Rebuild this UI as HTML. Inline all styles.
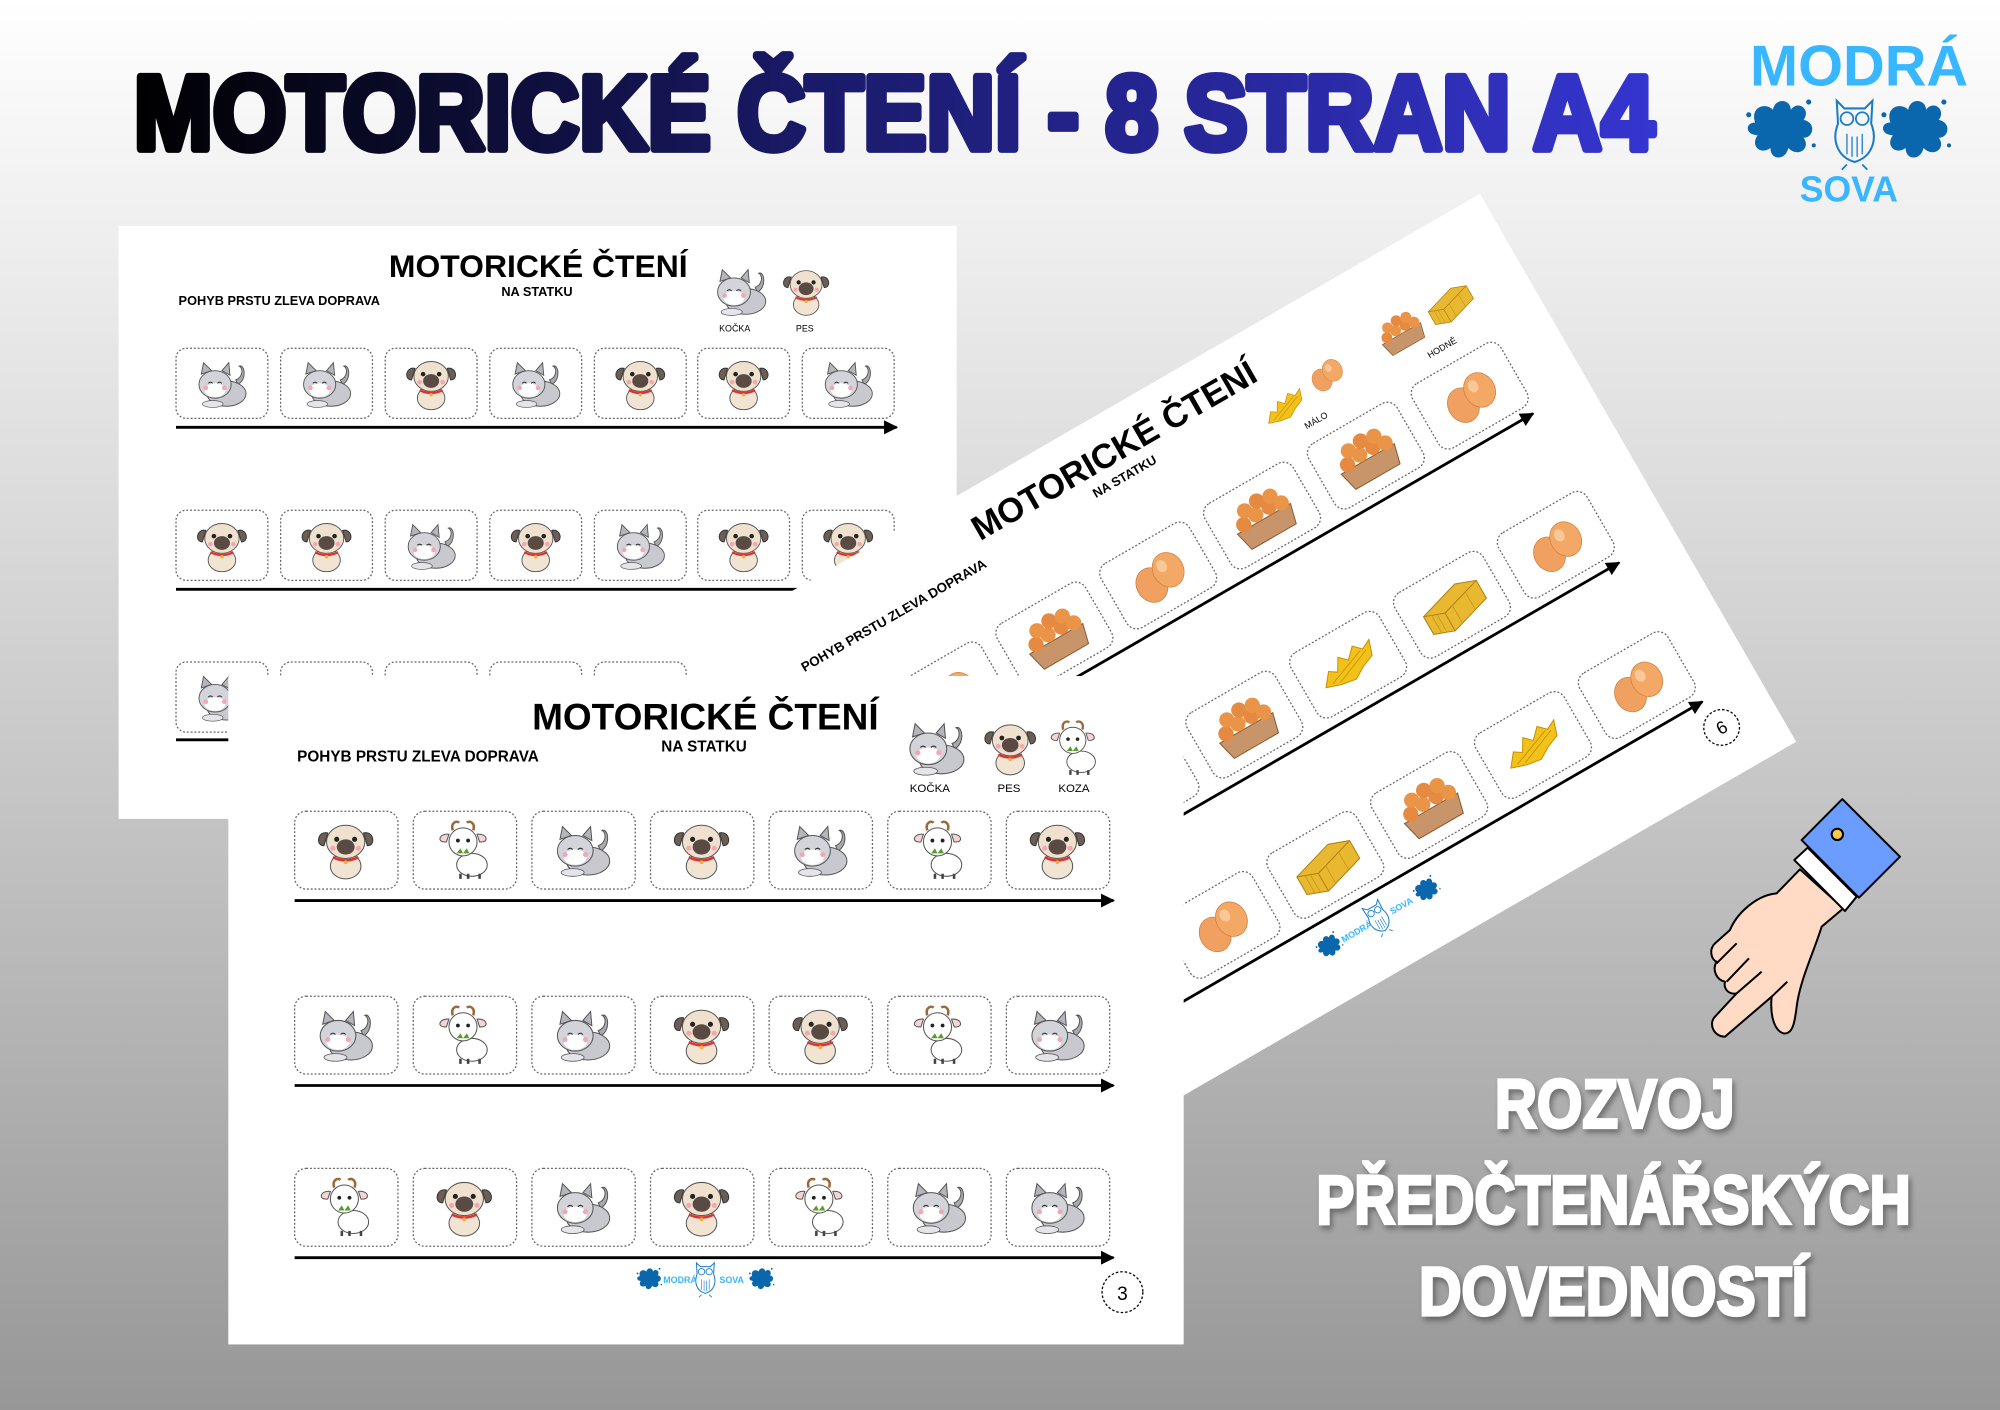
<!DOCTYPE html>
<html><head><meta charset="utf-8"><style>
html,body{margin:0;padding:0;width:2000px;height:1410px;overflow:hidden;background:#fff}
svg{display:block}
text{font-family:"Liberation Sans",sans-serif}
.c{fill:#fff;stroke:#666;stroke-width:1;stroke-dasharray:1.5 1.5}
.ln{stroke:#000;stroke-width:2.2}
</style></head><body>
<svg width="2000" height="1410" viewBox="0 0 1568 1105.4" preserveAspectRatio="none" xmlns="http://www.w3.org/2000/svg" xmlns:xlink="http://www.w3.org/1999/xlink">
<defs>
<linearGradient id="bg" x1="0" y1="0" x2="0" y2="1">
<stop offset="0" stop-color="#ffffff"/><stop offset="0.35" stop-color="#dcdcdc"/><stop offset="1" stop-color="#979797"/></linearGradient>
<linearGradient id="tg" x1="0" y1="0" x2="1" y2="0">
<stop offset="0" stop-color="#000"/><stop offset="0.45" stop-color="#1a1a6a"/><stop offset="1" stop-color="#3535d0"/></linearGradient>
<marker id="ar" viewBox="0 0 10 10" refX="9" refY="5" markerWidth="5" markerHeight="5" orient="auto"><path d="M0,0L10,5L0,10z" fill="#000"/></marker>
<symbol id="cat" viewBox="0 0 60 50">
<path d="M44,26 C52,22 50,8 45,10 C49,12 48,20 42,22z" fill="#a9a9b0" stroke="#555" stroke-width=".8"/>
<ellipse cx="34" cy="34" rx="17" ry="11" fill="#c8c8cf" stroke="#555" stroke-width=".8"/>
<path d="M12,17 L14,7 L21,14z M30,14 L36,7 L37,18z" fill="#b5b5bc" stroke="#555" stroke-width=".8"/>
<ellipse cx="24" cy="26" rx="14" ry="12" fill="#d3d3da" stroke="#555" stroke-width=".8"/>
<ellipse cx="24" cy="31" rx="9" ry="6" fill="#fff"/>
<circle cx="16" cy="29" r="2" fill="#f4a7b0"/><circle cx="32" cy="29" r="2" fill="#f4a7b0"/>
<path d="M18,25q2,-2 4,0M26,25q2,-2 4,0" stroke="#333" fill="none" stroke-width=".9"/>
<ellipse cx="22" cy="43" rx="9" ry="3" fill="#e4e4e9" stroke="#555" stroke-width=".6"/>
</symbol>
<symbol id="pug" viewBox="0 0 60 50">
<ellipse cx="30" cy="38" rx="12" ry="10" fill="#f1e4d2" stroke="#555" stroke-width=".8"/>
<path d="M16,12 C8,10 6,22 13,22z M44,12 C52,10 54,22 47,22z" fill="#6b5e55" stroke="#333" stroke-width=".8"/>
<ellipse cx="30" cy="19" rx="15" ry="13" fill="#efe1cd" stroke="#555" stroke-width=".8"/>
<ellipse cx="30" cy="23" rx="7" ry="6" fill="#5a4a44"/>
<circle cx="23" cy="17" r="2" fill="#222"/><circle cx="37" cy="17" r="2" fill="#222"/>
<circle cx="20" cy="24" r="2" fill="#f4a7b0"/><circle cx="40" cy="24" r="2" fill="#f4a7b0"/>
<path d="M20,31 Q30,36 40,31" stroke="#d33" stroke-width="2" fill="none"/>
<circle cx="30" cy="35" r="1.5" fill="#f0b030"/>
</symbol>
<symbol id="goat" viewBox="0 0 60 50">
<path d="M21,10 C19,4 24,2 26,4 M37,10 C39,4 34,2 32,4" stroke="#9a6a3a" stroke-width="2" fill="none"/>
<ellipse cx="36" cy="37" rx="12" ry="9" fill="#fff" stroke="#555" stroke-width=".8"/>
<path d="M18,13 C10,12 8,20 16,19z M40,13 C48,12 50,20 42,19z" fill="#f6d4d4" stroke="#555" stroke-width=".8"/>
<ellipse cx="29" cy="19" rx="11" ry="11" fill="#fff" stroke="#555" stroke-width=".8"/>
<circle cx="25" cy="18" r="1.5" fill="#222"/><circle cx="33" cy="18" r="1.5" fill="#222"/>
<path d="M24,28 l3,-4 l2,4 l3,-4 l2,4z" fill="#5a9a30"/>
<path d="M27,44v4M33,44v4M42,44v4" stroke="#444" stroke-width="2"/>
</symbol>
<symbol id="eggs" viewBox="0 0 60 50">
<ellipse cx="22" cy="29" rx="12" ry="14" fill="#f0a060" stroke="#d08040" stroke-width=".6"/>
<ellipse cx="39" cy="25" rx="12" ry="14" fill="#f3a866" stroke="#d08040" stroke-width=".6"/>
<ellipse cx="36" cy="20" rx="4" ry="5" fill="#f8c898"/>
</symbol>
<symbol id="tray" viewBox="0 0 60 50">
<path d="M6,28 L54,28 L50,44 L10,44z" fill="#c8956a" stroke="#8a5a30" stroke-width=".8"/>
<circle cx="14" cy="24" r="6" fill="#e58a40"/><circle cx="26" cy="22" r="6" fill="#ea9448"/><circle cx="38" cy="22" r="6" fill="#e58a40"/><circle cx="48" cy="24" r="6" fill="#ea9448"/>
<circle cx="20" cy="15" r="6" fill="#ea9448"/><circle cx="32" cy="13" r="6" fill="#e58a40"/><circle cx="43" cy="15" r="6" fill="#ea9448"/>
</symbol>
<symbol id="hay" viewBox="0 0 60 50">
<path d="M6,32 L14,22 L20,26 L26,16 L32,22 L40,14 L46,20 L54,16 L50,28 L40,32 L30,38 L18,36z" fill="#f2c21a" stroke="#c89000" stroke-width=".8"/>
<path d="M12,32 L44,20M18,34 L48,22" stroke="#c89000" stroke-width=".7"/>
</symbol>
<symbol id="bale" viewBox="0 0 60 50">
<path d="M6,22 L40,12 L56,18 L56,34 L22,44 L6,38z" fill="#e8b830" stroke="#b08010" stroke-width=".8"/>
<path d="M6,22 L22,28 L56,18M22,28 L22,44" stroke="#b08010" stroke-width=".8" fill="none"/>
<path d="M12,24v16M16,25v17M30,25v16M44,21v16" stroke="#c89a18" stroke-width=".7"/>
</symbol>
<symbol id="splat" viewBox="-30 -30 60 60">
<path d="M-20,-4 C-24,-16 -12,-20 -6,-14 C-4,-24 8,-22 8,-14 C14,-22 24,-14 18,-6 C28,-4 26,8 18,8 C24,16 14,24 6,16 C4,26 -8,26 -8,16 C-16,22 -24,14 -18,6 C-28,6 -28,-4 -20,-4z" fill="#0a66ad"/>
<circle cx="-25" cy="-10" r="2" fill="#0a66ad"/><circle cx="22" cy="-20" r="2" fill="#0a66ad"/><circle cx="26" cy="14" r="1.6" fill="#0a66ad"/>
</symbol>
<symbol id="owl" viewBox="-20 -30 40 60">
<path d="M-14,-26 L-8,-20 L8,-20 L14,-26 L13,-8 C18,4 14,18 0,22 C-14,18 -18,4 -13,-8z" fill="none" stroke="#1a7cc8" stroke-width="1.6"/>
<circle cx="-6" cy="-12" r="5" fill="none" stroke="#1a7cc8" stroke-width="1.4"/><circle cx="6" cy="-12" r="5" fill="none" stroke="#1a7cc8" stroke-width="1.4"/>
<path d="M-6,0v16M-2,2v16M2,2v16M6,0v16" stroke="#1a7cc8" stroke-width="1"/>
<path d="M-6,24 l-4,4M6,24l4,4" stroke="#1a7cc8" stroke-width="1.4"/>
</symbol>
<symbol id="mini" viewBox="0 0 110 30">
<use href="#splat" x="0" y="3" width="22" height="22"/>
<use href="#splat" x="88" y="3" width="22" height="22"/>
<use href="#owl" x="45" y="0" width="20" height="30"/>
<text x="22" y="18" font-size="7" font-weight="bold" fill="#38b6ff">MODRÁ</text>
<text x="66" y="18" font-size="7" font-weight="bold" fill="#38b6ff">SOVA</text>
</symbol>
</defs>

<rect width="1568" height="1105.4" fill="url(#bg)"/>

<text x="105" y="117" font-size="82" font-weight="bold" fill="url(#tg)" stroke="url(#tg)" stroke-width="6" stroke-linejoin="round" textLength="1192" lengthAdjust="spacingAndGlyphs">MOTORICKÉ ČTENÍ - 8 STRAN A4</text>

<text x="1372" y="67" font-size="45" font-weight="bold" fill="#38b6ff" textLength="171" lengthAdjust="spacingAndGlyphs">MODRÁ</text>
<use href="#splat" x="1366" y="70" width="60" height="60"/>
<use href="#splat" x="1472" y="70" width="60" height="60"/>
<use href="#owl" x="1426" y="75" width="56" height="60"/>
<text x="1411" y="158" font-size="28" font-weight="bold" fill="#38b6ff" textLength="77" lengthAdjust="spacingAndGlyphs">SOVA</text>

<g>
<rect x="93" y="177" width="657" height="465" fill="#fff"/>
<text x="422" y="217" font-size="25" font-weight="bold" text-anchor="middle">MOTORICKÉ ČTENÍ</text>
<text x="421" y="232" font-size="10" font-weight="bold" text-anchor="middle">NA STATKU</text>
<text x="140" y="239" font-size="10" font-weight="bold">POHYB PRSTU ZLEVA DOPRAVA</text>
<use href="#cat" x="553" y="205" width="56" height="46"/><use href="#pug" x="607" y="205" width="50" height="46"/>
<text x="576" y="260" font-size="7" text-anchor="middle">KOČKA</text><text x="631" y="260" font-size="7" text-anchor="middle">PES</text>
<g>
<rect class="c" x="138" y="273" width="72" height="55" rx="8"/><use href="#cat" x="147" y="278" width="54" height="45"/>
<rect class="c" x="220" y="273" width="72" height="55" rx="8"/><use href="#cat" x="229" y="278" width="54" height="45"/>
<rect class="c" x="302" y="273" width="72" height="55" rx="8"/><use href="#pug" x="311" y="278" width="54" height="45"/>
<rect class="c" x="384" y="273" width="72" height="55" rx="8"/><use href="#cat" x="393" y="278" width="54" height="45"/>
<rect class="c" x="466" y="273" width="72" height="55" rx="8"/><use href="#pug" x="475" y="278" width="54" height="45"/>
<rect class="c" x="547" y="273" width="72" height="55" rx="8"/><use href="#pug" x="556" y="278" width="54" height="45"/>
<rect class="c" x="629" y="273" width="72" height="55" rx="8"/><use href="#cat" x="638" y="278" width="54" height="45"/>
<line class="ln" x1="138" y1="335" x2="703" y2="335" marker-end="url(#ar)"/>
<rect class="c" x="138" y="400" width="72" height="55" rx="8"/><use href="#pug" x="147" y="405" width="54" height="45"/>
<rect class="c" x="220" y="400" width="72" height="55" rx="8"/><use href="#pug" x="229" y="405" width="54" height="45"/>
<rect class="c" x="302" y="400" width="72" height="55" rx="8"/><use href="#cat" x="311" y="405" width="54" height="45"/>
<rect class="c" x="384" y="400" width="72" height="55" rx="8"/><use href="#pug" x="393" y="405" width="54" height="45"/>
<rect class="c" x="466" y="400" width="72" height="55" rx="8"/><use href="#cat" x="475" y="405" width="54" height="45"/>
<rect class="c" x="547" y="400" width="72" height="55" rx="8"/><use href="#pug" x="556" y="405" width="54" height="45"/>
<rect class="c" x="629" y="400" width="72" height="55" rx="8"/><use href="#pug" x="638" y="405" width="54" height="45"/>
<line class="ln" x1="138" y1="462" x2="703" y2="462" marker-end="url(#ar)"/>
<rect class="c" x="138" y="519" width="72" height="55" rx="8"/><use href="#cat" x="147" y="524" width="54" height="45"/>
<rect class="c" x="220" y="519" width="72" height="55" rx="8"/>
<rect class="c" x="302" y="519" width="72" height="55" rx="8"/>
<rect class="c" x="384" y="519" width="72" height="55" rx="8"/>
<rect class="c" x="466" y="519" width="72" height="55" rx="8"/>
<line class="ln" x1="138" y1="580" x2="703" y2="580"/>
</g>
</g>

<g transform="translate(554,502) rotate(-30)">
<rect x="0" y="0" width="700" height="496" fill="#fff"/>
<text x="351" y="40" font-size="27" font-weight="bold" text-anchor="middle">MOTORICKÉ ČTENÍ</text>
<text x="348" y="56" font-size="10" font-weight="bold" text-anchor="middle">NA STATKU</text>
<text x="54" y="60" font-size="10.5" font-weight="bold">POHYB PRSTU ZLEVA DOPRAVA</text>
<use href="#hay" x="462" y="50" width="44" height="36"/><use href="#eggs" x="506" y="46" width="38" height="32"/>
<text x="500" y="92" font-size="7" text-anchor="middle">MÁLO</text>
<use href="#tray" x="570" y="44" width="44" height="36"/><use href="#bale" x="614" y="44" width="44" height="36"/>
<text x="614" y="92" font-size="7" text-anchor="middle">HODNĚ</text>
<rect class="c" x="10" y="104" width="80" height="58" rx="9"/><use href="#tray" x="20" y="108" width="60" height="50"/>
<rect class="c" x="104" y="104" width="80" height="58" rx="9"/><use href="#eggs" x="114" y="108" width="60" height="50"/>
<rect class="c" x="198" y="104" width="80" height="58" rx="9"/><use href="#tray" x="208" y="108" width="60" height="50"/>
<rect class="c" x="292" y="104" width="80" height="58" rx="9"/><use href="#eggs" x="302" y="108" width="60" height="50"/>
<rect class="c" x="386" y="104" width="80" height="58" rx="9"/><use href="#tray" x="396" y="108" width="60" height="50"/>
<rect class="c" x="480" y="104" width="80" height="58" rx="9"/><use href="#tray" x="490" y="108" width="60" height="50"/>
<rect class="c" x="574" y="104" width="80" height="58" rx="9"/><use href="#eggs" x="584" y="108" width="60" height="50"/>
<line class="ln" x1="10" y1="170" x2="650" y2="170" marker-end="url(#ar)"/>
<rect class="c" x="10" y="239" width="80" height="58" rx="9"/><use href="#eggs" x="20" y="243" width="60" height="50"/>
<rect class="c" x="104" y="239" width="80" height="58" rx="9"/><use href="#hay" x="114" y="243" width="60" height="50"/>
<rect class="c" x="198" y="239" width="80" height="58" rx="9"/><use href="#bale" x="208" y="243" width="60" height="50"/>
<rect class="c" x="292" y="239" width="80" height="58" rx="9"/><use href="#tray" x="302" y="243" width="60" height="50"/>
<rect class="c" x="386" y="239" width="80" height="58" rx="9"/><use href="#hay" x="396" y="243" width="60" height="50"/>
<rect class="c" x="480" y="239" width="80" height="58" rx="9"/><use href="#bale" x="490" y="243" width="60" height="50"/>
<rect class="c" x="574" y="239" width="80" height="58" rx="9"/><use href="#eggs" x="584" y="243" width="60" height="50"/>
<line class="ln" x1="10" y1="305" x2="650" y2="305" marker-end="url(#ar)"/>
<rect class="c" x="10" y="366" width="80" height="58" rx="9"/><use href="#tray" x="20" y="370" width="60" height="50"/>
<rect class="c" x="104" y="366" width="80" height="58" rx="9"/><use href="#hay" x="114" y="370" width="60" height="50"/>
<rect class="c" x="198" y="366" width="80" height="58" rx="9"/><use href="#eggs" x="208" y="370" width="60" height="50"/>
<rect class="c" x="292" y="366" width="80" height="58" rx="9"/><use href="#bale" x="302" y="370" width="60" height="50"/>
<rect class="c" x="386" y="366" width="80" height="58" rx="9"/><use href="#tray" x="396" y="370" width="60" height="50"/>
<rect class="c" x="480" y="366" width="80" height="58" rx="9"/><use href="#hay" x="490" y="370" width="60" height="50"/>
<rect class="c" x="574" y="366" width="80" height="58" rx="9"/><use href="#eggs" x="584" y="370" width="60" height="50"/>
<line class="ln" x1="10" y1="432" x2="652" y2="432" marker-end="url(#ar)"/>
<use href="#mini" x="292" y="437" width="110" height="30"/>
<circle cx="655" cy="457" r="14" fill="#fff" stroke="#000" stroke-width="1" stroke-dasharray="2 1.5"/>
<text x="655" y="462" font-size="14" text-anchor="middle">6</text>
</g>

<g>
<rect x="179" y="530" width="749" height="524" fill="#fff"/>
<text x="553" y="572" font-size="29" font-weight="bold" text-anchor="middle">MOTORICKÉ ČTENÍ</text>
<text x="552" y="589" font-size="12" font-weight="bold" text-anchor="middle">NA STATKU</text>
<text x="233" y="597" font-size="12" font-weight="bold">POHYB PRSTU ZLEVA DOPRAVA</text>
<use href="#cat" x="703" y="560" width="62" height="52"/><use href="#pug" x="764" y="560" width="56" height="52"/><use href="#goat" x="814" y="560" width="56" height="52"/>
<text x="729" y="621" font-size="9" text-anchor="middle">KOČKA</text><text x="791" y="621" font-size="9" text-anchor="middle">PES</text><text x="842" y="621" font-size="9" text-anchor="middle">KOZA</text>

<rect class="c" x="231" y="636" width="81" height="61" rx="9"/><use href="#pug" x="241" y="641" width="60" height="50"/>
<rect class="c" x="324" y="636" width="81" height="61" rx="9"/><use href="#goat" x="334" y="641" width="60" height="50"/>
<rect class="c" x="417" y="636" width="81" height="61" rx="9"/><use href="#cat" x="427" y="641" width="60" height="50"/>
<rect class="c" x="510" y="636" width="81" height="61" rx="9"/><use href="#pug" x="520" y="641" width="60" height="50"/>
<rect class="c" x="603" y="636" width="81" height="61" rx="9"/><use href="#cat" x="613" y="641" width="60" height="50"/>
<rect class="c" x="696" y="636" width="81" height="61" rx="9"/><use href="#goat" x="706" y="641" width="60" height="50"/>
<rect class="c" x="789" y="636" width="81" height="61" rx="9"/><use href="#pug" x="799" y="641" width="60" height="50"/>
<line class="ln" x1="231" y1="706" x2="873" y2="706" marker-end="url(#ar)"/>

<rect class="c" x="231" y="781" width="81" height="61" rx="9"/><use href="#cat" x="241" y="786" width="60" height="50"/>
<rect class="c" x="324" y="781" width="81" height="61" rx="9"/><use href="#goat" x="334" y="786" width="60" height="50"/>
<rect class="c" x="417" y="781" width="81" height="61" rx="9"/><use href="#cat" x="427" y="786" width="60" height="50"/>
<rect class="c" x="510" y="781" width="81" height="61" rx="9"/><use href="#pug" x="520" y="786" width="60" height="50"/>
<rect class="c" x="603" y="781" width="81" height="61" rx="9"/><use href="#pug" x="613" y="786" width="60" height="50"/>
<rect class="c" x="696" y="781" width="81" height="61" rx="9"/><use href="#goat" x="706" y="786" width="60" height="50"/>
<rect class="c" x="789" y="781" width="81" height="61" rx="9"/><use href="#cat" x="799" y="786" width="60" height="50"/>
<line class="ln" x1="231" y1="851" x2="873" y2="851" marker-end="url(#ar)"/>

<rect class="c" x="231" y="916" width="81" height="61" rx="9"/><use href="#goat" x="241" y="921" width="60" height="50"/>
<rect class="c" x="324" y="916" width="81" height="61" rx="9"/><use href="#pug" x="334" y="921" width="60" height="50"/>
<rect class="c" x="417" y="916" width="81" height="61" rx="9"/><use href="#cat" x="427" y="921" width="60" height="50"/>
<rect class="c" x="510" y="916" width="81" height="61" rx="9"/><use href="#pug" x="520" y="921" width="60" height="50"/>
<rect class="c" x="603" y="916" width="81" height="61" rx="9"/><use href="#goat" x="613" y="921" width="60" height="50"/>
<rect class="c" x="696" y="916" width="81" height="61" rx="9"/><use href="#cat" x="706" y="921" width="60" height="50"/>
<rect class="c" x="789" y="916" width="81" height="61" rx="9"/><use href="#cat" x="799" y="921" width="60" height="50"/>
<line class="ln" x1="231" y1="986" x2="873" y2="986" marker-end="url(#ar)"/>
<use href="#mini" x="498" y="988" width="110" height="30"/>
<circle cx="880" cy="1013" r="16" fill="#fff" stroke="#000" stroke-width="1" stroke-dasharray="2 1.5"/>
<text x="880" y="1019" font-size="15" text-anchor="middle">3</text>
</g>

<g transform="scale(0.784) translate(1680,780) scale(0.3333)" stroke="#000" stroke-width="6" stroke-linejoin="round">
<path d="M360,268 L290,340 C230,345 170,400 150,450 L105,490 C85,510 95,540 110,545 C95,570 110,600 135,605 C130,625 145,645 170,640 L105,710 C85,730 100,770 135,770 L275,650 C270,700 280,750 310,760 C340,765 345,720 350,680 C360,600 400,520 425,440 L490,385 Z" fill="#ffdbc5"/>
<path d="M170,490 L110,550 M207,535 L140,605 M245,575 L170,640 M322,605 L275,650" fill="none"/>
<path d="M343,240 L383,203 L530,350 L495,393 Z" fill="#fff"/>
<path d="M365,180 L487,57 L660,230 L537,353 Z" fill="#6b9cff"/>
<circle cx="472" cy="163" r="17" fill="#f7c948"/>
</g>

<g font-weight="bold" fill="#fff" stroke="#fff" stroke-width="2.5" text-anchor="middle" style="filter:drop-shadow(2px 3px 2px rgba(0,0,0,.35))">
<text x="1266" y="884" font-size="54" textLength="188" lengthAdjust="spacingAndGlyphs">ROZVOJ</text>
<text x="1265" y="959" font-size="54" textLength="466" lengthAdjust="spacingAndGlyphs">PŘEDČTENÁŘSKÝCH</text>
<text x="1265" y="1031" font-size="54" textLength="305" lengthAdjust="spacingAndGlyphs">DOVEDNOSTÍ</text>
</g>
</svg>
</body></html>
